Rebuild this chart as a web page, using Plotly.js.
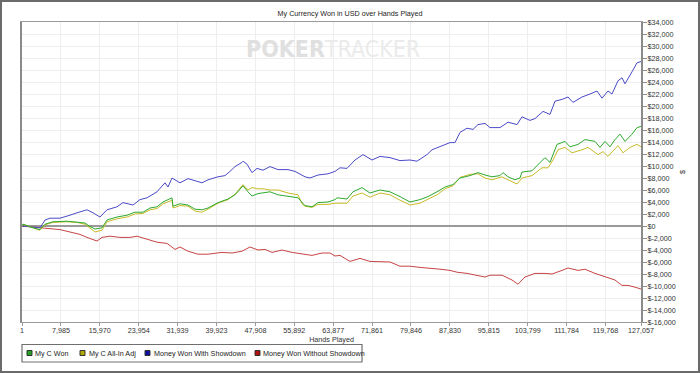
<!DOCTYPE html>
<html>
<head>
<meta charset="utf-8">
<script src="https://cdn.plot.ly/plotly-3.0.1.min.js"></script>
<style>
  html, body { margin: 0; padding: 0; background: #fff; }
  #wrap { position: relative; width: 700px; height: 373px; }
  #chart { width: 700px; height: 373px; }
  #frame { position: absolute; left: 0; top: 0; width: 700px; height: 373px; box-sizing: border-box; border: 2px solid #6a6a6a; pointer-events: none; }
</style>
</head>
<body>
<div id="wrap"><div id="chart"></div><div id="frame"></div></div>
<script>
// ---------------- DATA ----------------
const chartTitle = "My Currency Won in USD over Hands Played";
const xTitle = "Hands Played";
const yTitle = "$";
const seriesNames = ["My C Won", "My C All-In Adj", "Money Won With Showdown", "Money Won Without Showdown"];

const xTickVals = [1, 7985, 15970, 23954, 31939, 39923, 47908, 55892, 63877, 71861, 79846, 87830, 95815, 103799, 111784, 119768, 127057];
const yTickVals = [-16000, -14000, -12000, -10000, -8000, -6000, -4000, -2000, 0, 2000, 4000, 6000, 8000, 10000, 12000, 14000, 16000, 18000, 20000, 22000, 24000, 26000, 28000, 30000, 32000, 34000];

// My C Won (green)
const wonHands = [1, 205, 2258, 3695, 4721, 6363, 9237, 11289, 12931, 13958, 14984, 16421, 17447, 19500, 21552, 23194, 24836, 26273, 27710, 28942, 30789, 30994, 32431, 34073, 35510, 36947, 38178, 40231, 42284, 43721, 45157, 45363, 46389, 47210, 48441, 49468, 50904, 52547, 54599, 56652, 58089, 59525, 60757, 62810, 64246, 64657, 66710, 67941, 69788, 71430, 73483, 75536, 77588, 79641, 81693, 83336, 85183, 86825, 88467, 89904, 91956, 93599, 95035, 96472, 98114, 98730, 99756, 101193, 102219, 102630, 104683, 106325, 107351, 108377, 108993, 109814, 111456, 112482, 114125, 115561, 117614, 118640, 119667, 120693, 121719, 122745, 123772, 125209, 126235, 127057];
const wonValues = [0, 300, -300, -600, 300, 700, 800, 700, 500, -100, -500, -300, 1000, 1500, 1800, 2300, 2300, 3000, 3200, 4000, 4700, 3300, 3700, 3500, 2800, 2700, 3000, 3900, 4500, 5200, 6500, 6700, 5700, 5000, 5400, 5500, 5700, 5200, 5000, 4700, 3400, 3200, 3900, 4000, 4400, 4700, 4500, 5700, 6400, 5500, 6000, 5700, 4900, 4000, 4400, 4900, 5700, 6500, 6900, 8000, 8400, 8900, 8500, 8200, 8400, 8900, 8200, 7700, 8000, 9000, 9200, 10600, 11400, 10600, 11900, 13600, 14100, 13200, 13600, 14400, 14100, 13100, 14100, 13200, 14400, 15300, 14100, 15300, 16400, 16600];

// My C All-In Adj (yellow)
const adjHands = [1, 205, 2258, 3695, 4721, 6363, 9237, 11289, 12931, 13958, 14984, 16421, 17447, 19500, 21552, 23194, 24836, 26273, 27710, 28942, 30789, 30994, 32431, 34073, 35510, 36947, 38178, 40231, 42284, 43721, 45157, 45363, 46389, 47210, 48441, 49468, 50904, 52547, 54599, 56652, 57473, 58089, 59525, 60757, 62810, 64246, 66710, 67941, 69788, 71430, 73483, 75536, 77588, 79641, 81693, 83336, 85183, 86825, 88467, 89904, 91956, 93599, 95035, 96472, 98525, 99756, 101604, 102630, 104683, 106735, 107967, 108993, 110019, 111456, 112893, 114946, 116177, 118230, 119256, 120282, 122335, 123361, 124798, 126235, 127057];
const adjValues = [0, 300, -300, -700, 200, 600, 700, 600, 300, -400, -1000, -700, 700, 1200, 1500, 2000, 2100, 2700, 2900, 3700, 4300, 3000, 3400, 3300, 2500, 2300, 2800, 3800, 4400, 5300, 6600, 6900, 6000, 6400, 6200, 6200, 6000, 6000, 5500, 5200, 3700, 3300, 3100, 3600, 3600, 3800, 3800, 5000, 5500, 4800, 5500, 5200, 4300, 3500, 3800, 4500, 5200, 6200, 6700, 8100, 8600, 8700, 8000, 7700, 8200, 7700, 7000, 8000, 8400, 9700, 9700, 11000, 12700, 13100, 12200, 12700, 13100, 11900, 12400, 11600, 13400, 12200, 13100, 13600, 13200];

// Money Won With Showdown (blue)
const sdHands = [1, 2258, 3695, 4721, 5747, 7800, 8826, 9852, 11289, 13342, 14573, 16010, 17447, 19500, 20731, 22784, 24221, 25658, 27710, 29352, 29968, 30789, 32431, 34073, 36947, 38178, 40231, 41668, 42694, 43721, 45157, 45363, 46184, 47210, 48236, 49468, 50904, 52547, 54599, 56036, 58089, 59115, 60757, 62810, 64246, 65273, 66710, 68352, 69994, 71841, 73483, 75536, 77588, 79641, 81078, 83130, 84157, 85799, 87851, 88877, 89904, 91340, 92572, 93599, 95035, 96062, 98114, 99756, 101604, 102630, 104272, 105298, 106941, 108377, 109404, 110840, 112072, 113098, 114946, 116588, 118025, 119051, 120282, 121103, 122335, 123156, 123772, 125209, 126235, 127057];
const sdValues = [0, -200, -300, 1000, 1300, 1300, 1500, 1800, 2200, 2700, 2200, 1500, 2700, 3200, 3900, 3500, 4400, 4700, 5700, 7200, 6500, 8000, 7200, 7900, 7200, 7700, 8200, 8400, 9100, 9900, 10600, 10800, 10300, 8900, 9600, 9300, 9900, 9400, 9400, 9100, 8200, 8000, 8500, 8700, 9100, 9700, 9600, 11000, 11900, 11000, 11600, 11400, 10900, 11000, 10800, 11900, 12700, 13200, 13900, 13900, 15600, 16300, 16100, 16900, 17100, 16400, 16400, 17300, 16900, 18200, 17600, 17900, 19100, 18600, 20800, 21100, 21500, 20600, 21500, 22000, 22500, 21300, 22500, 22000, 24200, 24700, 23700, 25700, 27200, 27400];

// Money Won Without Showdown (red)
const nsdHands = [1, 3695, 5747, 7800, 9852, 11905, 13342, 15395, 16421, 18063, 20115, 22168, 23605, 25658, 27710, 29763, 30994, 31405, 32431, 34073, 36126, 38178, 41052, 43105, 45157, 46799, 48441, 49878, 51315, 53368, 55420, 57473, 59525, 61578, 63220, 64246, 65273, 67325, 69378, 71430, 73483, 75536, 77588, 79641, 81693, 83746, 85799, 87851, 89288, 91340, 93393, 95035, 96062, 98525, 100577, 101809, 103246, 105298, 107351, 108788, 110840, 112072, 114125, 115561, 117614, 119667, 121719, 123156, 124388, 125825, 127057];
const nsdValues = [0, -300, -500, -600, -1000, -1400, -1900, -2500, -1900, -1700, -1900, -1900, -1700, -2200, -2700, -2900, -3700, -3900, -3500, -4200, -4700, -4700, -4400, -4500, -4200, -3500, -4000, -3900, -4400, -4000, -4400, -4700, -4900, -4500, -4500, -5000, -4900, -5900, -5400, -5900, -5900, -6000, -6700, -6700, -6900, -7000, -7200, -7400, -7700, -7900, -8200, -8500, -8200, -8200, -9000, -9700, -8500, -7900, -7900, -8000, -7400, -7000, -7400, -7200, -7900, -8500, -9000, -9900, -9900, -10200, -10500];

// ---------------- STYLE / LAYOUT ----------------
const lineColors = ["#2eaa2e", "#c8bb2a", "#4a4ac8", "#c84444"];
const legendColors = ["#22a022", "#b0a800", "#1010a0", "#b01010"];
const FONT = "Liberation Sans, Arial, Helvetica, sans-serif";
const FS = 7.2;

function fmtNum(v) {
  const a = Math.abs(v).toString().replace(/\B(?=(\d{3})+(?!\d))/g, ",");
  return (v < 0 ? "-" : "") + a;
}
const xTickText = xTickVals.map(fmtNum);
const yTickText = yTickVals.map(v => "$" + fmtNum(v));

function line(x, y, name, color) {
  return { type: "scatter", mode: "lines", x: x, y: y, name: name,
           line: { color: color, width: 1 }, showlegend: false, hoverinfo: "skip" };
}
const traces = [
  line(nsdHands, nsdValues, seriesNames[3], lineColors[3]),
  line(sdHands, sdValues, seriesNames[2], lineColors[2]),
  line(adjHands, adjValues, seriesNames[1], lineColors[1]),
  line(wonHands, wonValues, seriesNames[0], lineColors[0])
];

// plot area in pixels
const M = { l: 22, r: 59, t: 22, b: 51 };
const PW = 700 - M.l - M.r, PH = 373 - M.t - M.b;
const px = x => (x - M.l) / PW;
const py = y => (373 - M.b - y) / PH;

const shapes = [];
const annotations = [];

// custom legend box
shapes.push({ type: "rect", xref: "paper", yref: "paper", x0: px(22), x1: px(362), y0: py(362), y1: py(344.5),
              line: { color: "#707070", width: 1.2 }, fillcolor: "rgba(255,255,255,0)", layer: "above" });
const legSquareX = [27, 80, 145, 255];
const legTextX = [34, 87.5, 152.5, 262];
for (let i = 0; i < 4; i++) {
  shapes.push({ type: "rect", xref: "paper", yref: "paper",
                x0: px(legSquareX[i]), x1: px(legSquareX[i] + 5), y0: py(355.5), y1: py(350.5),
                line: { color: "#333", width: 1 }, fillcolor: legendColors[i], layer: "above" });
  annotations.push({ xref: "paper", yref: "paper", x: px(legTextX[i]), y: py(353.3), xanchor: "left", yanchor: "middle",
                     text: seriesNames[i], showarrow: false, borderpad: 0,
                     font: { family: FONT, size: FS, color: "#222" } });
}

// watermark
annotations.push({ xref: "paper", yref: "paper", x: px(333), y: py(49), xanchor: "center", yanchor: "middle",
  showarrow: false,
  text: '<b><span style="color:#e0e0e0">POKER</span></b><span style="color:#ebebeb">TRACKER</span>',
  font: { family: "Liberation Sans Narrow, DejaVu Sans Condensed, Arial Narrow, sans-serif", size: 23, color: "#e2e2e2" } });

const layout = {
  width: 700, height: 373,
  margin: M,
  paper_bgcolor: "#ffffff", plot_bgcolor: "#ffffff",
  font: { family: FONT, size: FS, color: "#333" },
  title: { text: chartTitle, font: { family: FONT, size: FS, color: "#222" }, x: 0.5, xanchor: "center", y: 1 - 13 / 373, yanchor: "middle" },
  showlegend: false,
  hovermode: false,
  xaxis: {
    range: [1, 127057], tickvals: xTickVals, ticktext: xTickText,
    showgrid: true, gridcolor: "#eeeeee", gridwidth: 1, zeroline: false,
    showline: true, linecolor: "#9a9a9a", linewidth: 1, mirror: true,
    ticks: "outside", ticklen: 3, tickcolor: "#9a9a9a",
    ticklabelstandoff: -2,
    tickfont: { family: FONT, size: FS, color: "#333" },
    title: { text: xTitle, font: { family: FONT, size: FS, color: "#333" }, standoff: 2 }
  },
  yaxis: {
    side: "right", range: [-16000, 34000], tickvals: yTickVals, ticktext: yTickText,
    showgrid: true, gridcolor: "#eeeeee", gridwidth: 1,
    zeroline: true, zerolinecolor: "#9a9a9a", zerolinewidth: 2.5,
    showline: true, linecolor: "#8a8a8a", linewidth: 2, mirror: true,
    ticks: "outside", ticklen: 4, tickcolor: "#8a8a8a",
    ticklabelstandoff: -1,
    tickfont: { family: FONT, size: FS, color: "#333" },
    title: { text: yTitle, font: { family: FONT, size: FS, color: "#333" }, standoff: 5 }
  },
  shapes: shapes,
  annotations: annotations
};

Plotly.newPlot("chart", traces, layout, { displayModeBar: false, staticPlot: true });
</script>
</body>
</html>
